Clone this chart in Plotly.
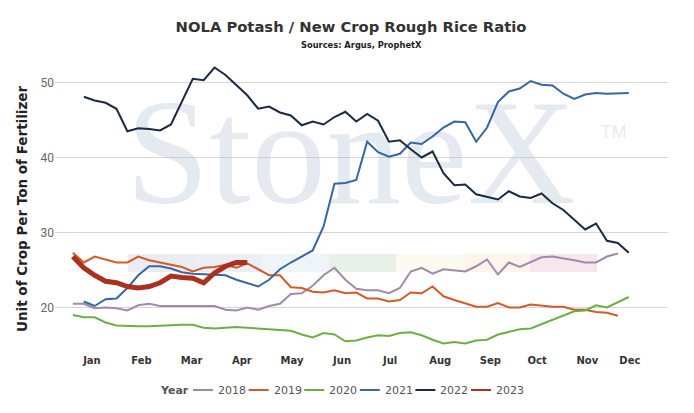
import plotly.graph_objects as go

# week numbers of the season and ratio values per year
weeks_2018 = list(range(1, 52))
ratio_2018 = [20.5, 20.5, 19.9, 20.0, 19.9, 19.6, 20.3, 20.5, 20.2, 20.2,
              20.2, 20.2, 20.3, 20.2, 19.7, 19.6, 20.0, 19.7, 20.2, 20.5,
              21.8, 21.9, 22.9, 24.3, 25.3, 23.7, 22.5, 22.3, 22.3, 21.9,
              22.6, 24.8, 25.3, 24.5, 25.1, 24.9, 24.8, 25.5, 26.4, 24.4,
              26.0, 25.4, 26.0, 26.7, 26.8, 26.6, 26.3, 26.0, 26.0, 26.8, 27.2]

weeks_2019 = list(range(1, 52))
ratio_2019 = [27.3, 26.0, 26.8, 26.4, 26.0, 26.0, 26.8, 26.3, 26.0, 25.6,
              25.4, 24.8, 25.3, 25.4, 25.7, 25.3, 25.9, 25.1, 24.3, 24.3,
              22.7, 22.6, 22.1, 22.0, 22.3, 21.9, 22.0, 21.2, 21.2, 20.8,
              21.0, 22.0, 21.9, 22.8, 21.5, 21.0, 20.5, 20.1, 20.1, 20.6,
              20.0, 20.0, 20.4, 20.2, 20.1, 20.1, 19.7, 19.7, 19.4, 19.3, 18.9]

weeks_2020 = list(range(1, 53))
ratio_2020 = [19.0, 18.7, 18.7, 18.0, 17.6, 17.5, 17.5, 17.5, 17.6, 17.6,
              17.7, 17.7, 17.3, 17.2, 17.3, 17.4, 17.3, 17.2, 17.2, 17.0,
              16.9, 16.4, 16.0, 16.6, 16.4, 15.5, 15.6, 16.0, 16.3, 16.2,
              16.6, 16.7, 16.3, 15.7, 15.2, 15.4, 15.2, 15.6, 15.7, 16.4,
              16.8, 17.1, 17.2, 17.8, 18.4, 18.9, 19.5, 19.6, 20.3, 20.0,
              20.7, 21.4]

weeks_2021 = list(range(2, 53))
ratio_2021 = [20.8, 20.2, 21.1, 21.2, 22.6, 24.3, 25.5, 25.5, 25.2,
              24.7, 24.5, 24.4, 24.4, 24.3, 23.7, 23.3, 22.8, 23.7, 25.1,
              26.0, 26.8, 27.6, 30.8, 36.5, 36.6, 37.0, 42.1, 40.7, 40.1,
              40.5, 42.0, 41.8, 42.8, 44.0, 44.8, 44.7, 42.1, 44.0, 47.4,
              48.8, 49.2, 50.2, 49.7, 49.6, 48.5, 47.8, 48.4, 48.6, 48.5,
              48.5, 48.6]

weeks_2022 = list(range(2, 53))
ratio_2022 = [48.1, 47.6, 47.3, 46.5, 43.5, 43.9, 43.8, 43.6, 44.4,
              47.4, 50.5, 50.3, 52.0, 51.0, 49.7, 48.3, 46.5, 46.8, 46.0,
              45.6, 44.3, 44.8, 44.4, 45.4, 46.1, 44.8, 45.8, 44.9, 42.1,
              42.3, 41.1, 40.0, 40.8, 37.9, 36.3, 36.4, 35.1, 34.7, 34.4,
              35.5, 34.8, 34.6, 35.2, 33.9, 33.0, 31.7, 30.4, 31.2, 28.9,
              28.6, 27.3]

weeks_2023 = list(range(1, 18))
ratio_2023 = [26.8, 25.3, 24.3, 23.5, 23.3, 22.8, 22.6, 22.8, 23.3, 24.2,
              24.0, 23.9, 23.3, 24.6, 25.5, 26.0, 26.0]

month_labels = ["Jan", "Feb", "Mar", "Apr", "May", "Jun",
                "Jul", "Aug", "Sep", "Oct", "Nov", "Dec"]
month_weeks = [2.75, 7.3, 11.9, 16.5, 21.1, 25.7, 30.1, 34.7, 39.3, 43.6, 48.2, 52.1]

series = [
    ("2018", weeks_2018, ratio_2018, "#a08aa9", 2),
    ("2019", weeks_2019, ratio_2019, "#d45a28", 2),
    ("2020", weeks_2020, ratio_2020, "#6cb045", 2),
    ("2021", weeks_2021, ratio_2021, "#36679e", 2),
    ("2022", weeks_2022, ratio_2022, "#1a2a40", 2),
    ("2023", weeks_2023, ratio_2023, "#a8321f", 5),
]

# the page body adds an 8px margin, so the figure is 8px smaller than the window
OFF = 8
W, H = 694 - OFF, 413 - OFF
L, R, T, B = 55 - OFF, 26, 60 - OFF, 68
PW, PH = W - L - R, H - T - B


def px_x(px):
    # window pixel -> paper fraction
    return (px - OFF - L) / PW


def px_y(py):
    return (H - B - (py - OFF)) / PH


fig = go.Figure()

# StoneX watermark, drawn first so it sits under the lines
fig.add_trace(go.Scatter(
    x=[26.5], y=[38.9], mode="text", text=["StoneX"],
    textfont=dict(family="Liberation Serif", size=150, color="rgba(176,188,208,0.33)"),
    showlegend=False, hoverinfo="skip", cliponaxis=False))
fig.add_trace(go.Scatter(
    x=[50.6], y=[43.2], mode="text", text=["TM"],
    textfont=dict(family="Liberation Sans", size=18, color="rgba(176,188,208,0.33)"),
    showlegend=False, hoverinfo="skip", cliponaxis=False))

for name, xs, ys, color, width in series:
    fig.add_trace(go.Scatter(x=xs, y=ys, mode="lines", name=name,
                             line=dict(color=color, width=width), showlegend=False))

band_colors = ["#e9ecf1", "#eaeef5", "#eff4f9", "#e8f0ea", "#fafaf0", "#fdf5ea", "#f6e7ec"]
for i, c in enumerate(band_colors):
    fig.add_shape(type="rect", xref="paper", yref="paper",
                  x0=px_x(128 + 67 * i), x1=px_x(128 + 67 * (i + 1)),
                  y0=px_y(272), y1=px_y(254),
                  fillcolor=c, line_width=0, layer="below")

# legend drawn by hand to keep the short swatches of the original
annotations = [
    dict(text="<b>Year</b>", x=px_x(158), y=px_y(390), xref="paper", yref="paper",
         xanchor="left", yanchor="middle", showarrow=False,
         font=dict(family="DejaVu Sans", size=11, color="#555555")),
    dict(text="<b>Sources: Argus, ProphetX</b>", x=0.5, xref="paper", y=px_y(44.5),
         yref="paper", xanchor="center", yanchor="middle", showarrow=False,
         font=dict(family="DejaVu Sans", size=8.3, color="#222222")),
    dict(text="<b>Unit of Crop Per Ton of Fertilizer</b>", x=px_x(22), y=px_y(209),
         xref="paper", yref="paper", textangle=-90, xanchor="center", yanchor="middle",
         showarrow=False, font=dict(family="DejaVu Sans", size=13.5, color="#222222")),
]
for i, (name, xs, ys, color, width) in enumerate(series):
    x0 = 193 + 55.6 * i
    fig.add_shape(type="line", xref="paper", yref="paper",
                  x0=px_x(x0), x1=px_x(x0 + 20), y0=px_y(390), y1=px_y(390),
                  line=dict(color=color, width=2))
    annotations.append(dict(text=name, x=px_x(x0 + 23), y=px_y(390.5), xref="paper", yref="paper",
                            xanchor="left", yanchor="middle", showarrow=False,
                            font=dict(family="DejaVu Sans", size=11, color="#555555")))

fig.update_layout(
    width=W, height=H,
    margin=dict(l=L, r=R, t=T, b=B),
    plot_bgcolor="white", paper_bgcolor="white",
    title=dict(text="<b>NOLA Potash / New Crop Rough Rice Ratio</b>",
               x=0.5, xanchor="center", y=1 - (27 - OFF) / H, yanchor="middle",
               font=dict(family="DejaVu Sans", size=14.75, color="#333333")),
    showlegend=False,
    annotations=annotations,
)

fig.update_xaxes(range=[-0.64, 55.6], showgrid=False, zeroline=False,
                 showline=False, ticks="", automargin=False,
                 tickmode="array", tickvals=month_weeks,
                 ticktext=["<b>%s</b>" % m for m in month_labels],
                 tickfont=dict(family="DejaVu Sans", size=10, color="#333333"),
                 ticklabelstandoff=8)
fig.update_yaxes(range=[15, 53], showgrid=True, gridcolor="#d6d6d6", gridwidth=1,
                 zeroline=False, showline=False, ticks="", automargin=False,
                 tickmode="array", tickvals=[20, 30, 40, 50],
                 tickfont=dict(family="Roboto", size=12, color="#666666"))

fig.write_html("out.html")
